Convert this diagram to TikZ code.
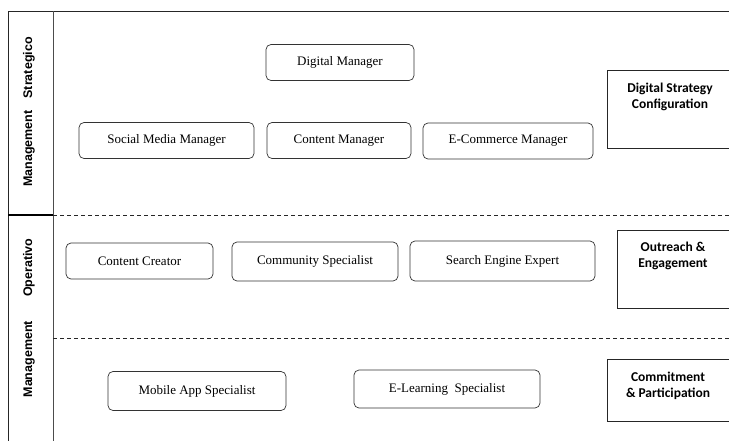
\documentclass[tikz,border=0pt]{standalone}
\usepackage{fontspec}
\setmainfont{Liberation Serif}
\newfontfamily\lanefont{Liberation Sans}
\newfontfamily\sidefont{Carlito}
\usepackage{tikz}
\usetikzlibrary{positioning}

\begin{document}
\begin{tikzpicture}[x=1pt,y=-1pt]
\tikzstyle{role}=[draw=black!80,line width=0.7pt,rounded corners=5pt,minimum height=36pt,inner sep=2pt,font=\fontsize{13}{15}\selectfont]
\tikzstyle{lane}=[rotate=90,font=\lanefont\bfseries\fontsize{12.5}{14}\selectfont]
\tikzstyle{sidebox}=[draw=black!85,line width=0.8pt,inner sep=0pt]
\tikzstyle{side}=[align=center,font=\sidefont\bfseries\fontsize{13.5}{16.5}\selectfont]
\tikzstyle{sep}=[black!85,line width=0.8pt,dash pattern=on 4pt off 3pt]
\useasboundingbox (0,0) rectangle (729,440);

% frame and lanes
\coordinate (TL) at (8,11);
\coordinate (TR) at (745,11);
\coordinate (BL) at (8,450);
\coordinate (CT) at (53,11);
\coordinate (CB) at (53,450);
\coordinate (S1) at (53,215);
\coordinate (S1r) at (729,215);
\coordinate (S2) at (53,338);
\coordinate (S2r) at (729,338);
\draw[black!85,line width=0.9pt] (BL) -- (TL) -- (TR);
\draw[black!70,line width=0.8pt] (CT) -- (CB);
\draw[black,line width=1.4pt] (TL |- S1) -- (S1);
\draw[sep] (S1) -- (S1r);
\draw[sep] (S2) -- (S2r);

\node[lane] (strat) at (29,112) {Management\hspace{12pt}Strategico};
\node[lane] (oper) at (29,318) {Management\hspace{24pt}Operativo};

% strategic level
\node[role,minimum width=148pt] (dm) at (340,62.5) {Digital Manager};
\node[role,minimum width=175pt] (smm) at (166.5,140.5) {Social Media Manager};
\node[role,minimum width=144pt] (cm) at (339,140.5) {Content Manager};
\node[role,minimum width=170pt] (ecm) at (508,141) {E-Commerce Manager};

% operative level
\node[role,minimum width=147pt] (cc) at (139.5,261) {Content Creator};
\node[role,minimum width=166pt,minimum height=39pt] (cs) at (315,261.5) {Community Specialist};
\node[role,minimum width=185pt,minimum height=40pt] (see) at (502.5,261) {Search Engine Expert};

% management level
\node[role,minimum width=178pt,minimum height=39pt] (mas) at (197,391) {Mobile App Specialist};
\node[role,minimum width=186pt,minimum height=38pt] (els) at (447,389) {E-Learning\ \ Specialist};

% right-hand boxes, open past the edge
\node[sidebox,minimum width=140pt,minimum height=78pt] (dscbox) at (677,109) {};
\node[side] (dsc) at (670,97) {Digital Strategy\\Configuration};
\node[sidebox,minimum width=130pt,minimum height=78pt] (oebox) at (682,269) {};
\node[side] (oe) at (673,256) {Outreach \&\\Engagement};
\node[sidebox,minimum width=140pt,minimum height=62pt] (cpbox) at (677,390) {};
\node[side] (cp) at (668,386) {Commitment\\\& Participation};
\end{tikzpicture}
\end{document}
